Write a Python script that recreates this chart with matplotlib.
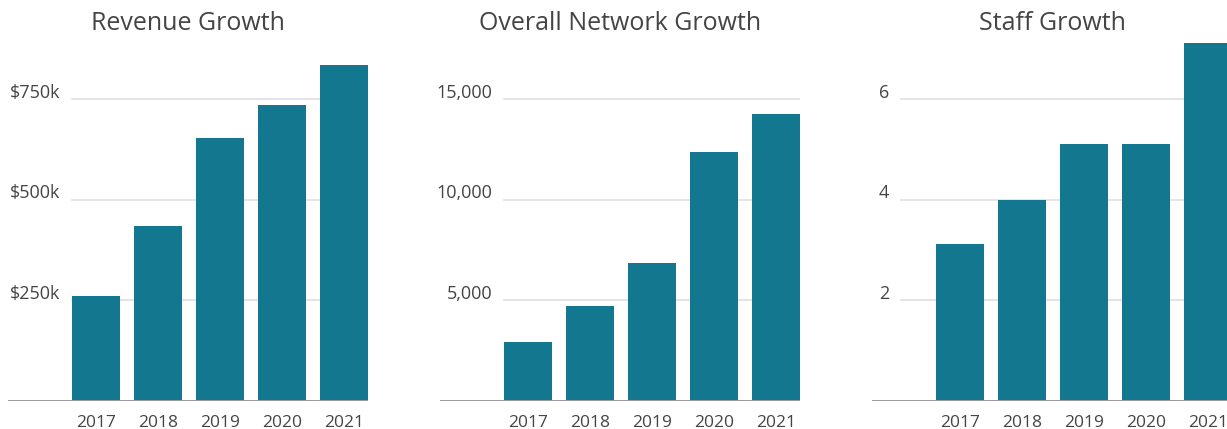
import matplotlib
matplotlib.use("Agg")
import matplotlib.pyplot as plt
import matplotlib.transforms as mtransforms

# ---- data ----
years = ["2017", "2018", "2019", "2020", "2021"]
revenue = [261000, 435000, 654000, 736000, 836000]
network = [2935, 4726, 6866, 12388, 14279]
staff = [3.12, 4.0, 5.11, 5.11, 7.12]

titles = ["Revenue Growth", "Overall Network Growth", "Staff Growth"]
rev_ticks = [250000, 500000, 750000]
rev_tick_labels = ["$250k", "$500k", "$750k"]
net_ticks = [5000, 10000, 15000]
net_tick_labels = ["5,000", "10,000", "15,000"]
staff_ticks = [2, 4, 6]
staff_tick_labels = ["2", "4", "6"]

# ---- style ----
W, H, DPI = 1227, 429, 100
BAR = "#13778f"
TEXT = "#444444"
GRID = "#dcdcdc"
BASE = "#9a9a9a"
FONT = ["Open Sans", "DejaVu Sans"]
plt.rcParams["font.family"] = FONT

fig = plt.figure(figsize=(W / DPI, H / DPI), dpi=DPI)
fig.patch.set_facecolor("white")

panels = [
    (revenue, rev_ticks, rev_tick_labels, 250000),
    (network, net_ticks, net_tick_labels, 5000),
    (staff, staff_ticks, staff_tick_labels, 2),
]
left_px = [8, 440, 872]
grid_start_px = [72, 504, 901]
ax_w_px = 360
base_px = 401
top_px = 30
step_px = 100.6
spacing_px = 62.0
bar_w_px = 48.0
first_center_off = 88.0  # px from axes left to first bar centre

for i, (vals, ticks, tlabels, step) in enumerate(panels):
    L = left_px[i]
    ax = fig.add_axes([L / W, (H - base_px) / H, ax_w_px / W, (base_px - top_px) / H])
    x = list(range(len(years)))
    ax.bar(x, vals, width=bar_w_px / spacing_px, color=BAR, zorder=3)
    xmin = -first_center_off / spacing_px
    xmax = xmin + ax_w_px / spacing_px
    ax.set_xlim(xmin, xmax)
    ax.set_ylim(0, step * (base_px - top_px) / step_px)
    for s in ax.spines.values():
        s.set_visible(False)
    ax.axhline(0, color=BASE, lw=1.4, zorder=4)
    gfrac = (grid_start_px[i] - L) / ax_w_px
    for t in ticks:
        ax.axhline(t, xmin=gfrac, xmax=1, color=GRID, lw=1.1, zorder=1)
    ax.set_yticks([])
    trans = mtransforms.blended_transform_factory(ax.transAxes, ax.transData)
    off = mtransforms.ScaledTranslation(0, 6.5 / DPI, fig.dpi_scale_trans)
    lab_frac = (grid_start_px[i] - 12 - L) / ax_w_px
    for t, lab in zip(ticks, tlabels):
        ax.text(lab_frac, t, lab, transform=trans + off, ha="right", va="center",
                fontsize=13, color=TEXT, family=FONT)
    ax.set_xticks(x)
    ax.set_xticklabels(years, fontsize=12.5, color=TEXT, family=FONT)
    ax.tick_params(axis="x", length=0, pad=10)
    ax.set_facecolor("none")
    # title centred over the axes
    cx = (L + ax_w_px / 2) / W
    fig.text(cx, 1 - 23 / H, titles[i], ha="center", va="center",
             fontsize=18, color=TEXT, family=FONT)

fig.savefig("out.png", dpi=DPI, facecolor="white")
